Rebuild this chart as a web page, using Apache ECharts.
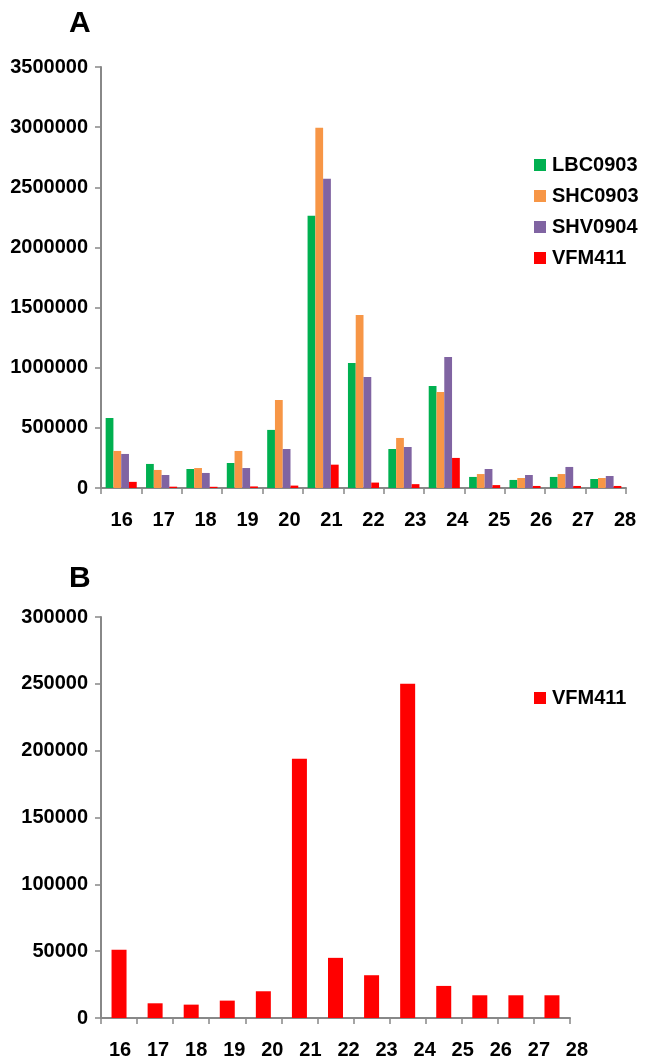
<!DOCTYPE html>
<html>
<head>
<meta charset="utf-8">
<script src="https://cdn.jsdelivr.net/npm/echarts@6/dist/echarts.min.js"></script>
<style>
  html, body { margin: 0; padding: 0; background: #fff; }
  #main { width: 646px; height: 1061px; }
</style>
</head>
<body>
<div id="main"></div>
<script>
// categories (x axis)
const categories = ['16', '17', '18', '19', '20', '21', '22', '23', '24', '25', '26', '27', '28']

// series values
const lbc0903 = [582000, 200000, 158000, 208000, 483000, 2263000, 1040000, 324000, 849000, 92000, 67000, 92000, 75000]
const shc0903 = [308000, 150000, 166000, 308000, 732000, 2995000, 1439000, 416000, 799000, 116000, 83000, 116000, 83000]
const shv0904 = [283000, 108000, 125000, 166000, 324000, 2571000, 923000, 341000, 1090000, 158000, 108000, 175000, 100000]
const vfm411 = [51000, 11000, 10000, 13000, 20000, 194000, 45000, 32000, 250000, 24000, 17000, 17000, 17000]

// axis ranges
const yMaxA = 3500000
const yStepA = 500000
const yMaxB = 300000
const yStepB = 50000

const font = 'Liberation Sans, Arial, sans-serif'
const axisGrey = '#888888'

const labelStyle = {
  fontFamily: font,
  fontWeight: 'bold',
  fontSize: 20,
  color: '#000'
}

// plain numbers on the y axis, no thousands separators
const plain = v => String(v)

const xLine = {
  show: true,
  lineStyle: { color: axisGrey, width: 2 }
}

const chart = echarts.init(document.getElementById('main'))

const option = {
  animation: false,
  backgroundColor: '#fff',
  title: [
    {
      text: 'A', left: 69, top: 9, padding: 0,
      textStyle: { fontFamily: font, fontWeight: 'bold', fontSize: 30, color: '#000' }
    },
    {
      text: 'B', left: 69, top: 564, padding: 0,
      textStyle: { fontFamily: font, fontWeight: 'bold', fontSize: 30, color: '#000' }
    }
  ],
  legend: [
    {
      data: ['LBC0903', 'SHC0903', 'SHV0904', 'VFM411'],
      orient: 'vertical',
      left: 534,
      top: 155,
      padding: 0,
      itemWidth: 12,
      itemHeight: 12,
      itemGap: 11,
      icon: 'rect',
      textStyle: { ...labelStyle, lineHeight: 20, padding: [0, 0, 0, 1] }
    },
    {
      data: ['VFM411'],
      orient: 'vertical',
      left: 534,
      top: 688,
      padding: 0,
      itemWidth: 12,
      itemHeight: 12,
      icon: 'rect',
      textStyle: { ...labelStyle, lineHeight: 20, padding: [0, 0, 0, 1] }
    }
  ],
  grid: [
    // 0: panel A plot
    { left: 101, top: 67, width: 525, height: 421, containLabel: false },
    // 1: panel B plot
    { left: 101, top: 617, width: 469, height: 401, containLabel: false },
    // 2, 3: label rows (the original labels are spaced a bit wider than the ticks)
    { left: 100.75, top: 67, width: 552.5, height: 421, containLabel: false },
    { left: 101, top: 617, width: 495, height: 401, containLabel: false }
  ],
  xAxis: [
    {
      gridIndex: 0, type: 'category', data: categories,
      axisLine: xLine,
      axisTick: { show: true, length: 6, lineStyle: { color: axisGrey, width: 1.5 } },
      axisLabel: { show: false },
      splitLine: { show: false }
    },
    {
      gridIndex: 1, type: 'category', data: categories,
      axisLine: xLine,
      axisTick: { show: true, length: 6, lineStyle: { color: axisGrey, width: 1.5 } },
      axisLabel: { show: false },
      splitLine: { show: false }
    },
    {
      gridIndex: 2, type: 'category', data: categories,
      axisLine: { show: false }, axisTick: { show: false }, splitLine: { show: false },
      axisLabel: { ...labelStyle, margin: 22, interval: 0 }
    },
    {
      gridIndex: 3, type: 'category', data: categories,
      axisLine: { show: false }, axisTick: { show: false }, splitLine: { show: false },
      axisLabel: { ...labelStyle, margin: 22, interval: 0 }
    }
  ],
  yAxis: [
    {
      gridIndex: 0, type: 'value', min: 0, max: yMaxA, interval: yStepA,
      axisLine: { show: true, lineStyle: { color: axisGrey, width: 2 } },
      axisTick: { show: true, length: 6, lineStyle: { color: axisGrey, width: 1.5 } },
      axisLabel: { ...labelStyle, margin: 13, formatter: plain },
      splitLine: { show: false }
    },
    {
      gridIndex: 1, type: 'value', min: 0, max: yMaxB, interval: yStepB,
      axisLine: { show: true, lineStyle: { color: axisGrey, width: 2 } },
      axisTick: { show: true, length: 6, lineStyle: { color: axisGrey, width: 1.5 } },
      axisLabel: { ...labelStyle, margin: 13, formatter: plain },
      splitLine: { show: false }
    },
    { gridIndex: 2, type: 'value', show: false },
    { gridIndex: 3, type: 'value', show: false }
  ],
  series: [
    {
      name: 'LBC0903', type: 'bar', xAxisIndex: 0, yAxisIndex: 0,
      barGap: 0, barCategoryGap: '23%',
      itemStyle: { color: '#00B050' },
      data: lbc0903
    },
    {
      name: 'SHC0903', type: 'bar', xAxisIndex: 0, yAxisIndex: 0,
      barGap: 0, barCategoryGap: '23%',
      itemStyle: { color: '#F79646' },
      data: shc0903
    },
    {
      name: 'SHV0904', type: 'bar', xAxisIndex: 0, yAxisIndex: 0,
      barGap: 0, barCategoryGap: '23%',
      itemStyle: { color: '#8064A2' },
      data: shv0904
    },
    {
      name: 'VFM411', type: 'bar', xAxisIndex: 0, yAxisIndex: 0,
      barGap: 0, barCategoryGap: '23%',
      itemStyle: { color: '#FF0000' },
      data: vfm411
    },
    {
      name: 'VFM411', type: 'bar', xAxisIndex: 1, yAxisIndex: 1,
      barWidth: 15,
      itemStyle: { color: '#FF0000' },
      data: vfm411
    }
  ]
}

chart.setOption(option)
</script>
</body>
</html>
